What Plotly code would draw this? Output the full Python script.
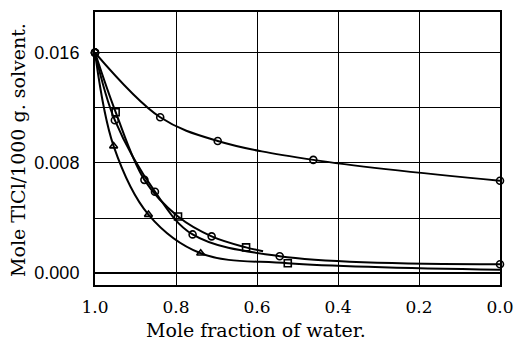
import plotly.graph_objects as go

# Curve A (highest solubility)
xa = [1.0, 0.839, 0.697, 0.461, 0.0]
ya = [0.0160, 0.01131, 0.00959, 0.00822, 0.0067]
sa = ["circle-open"] * 5

# Curve C (upper of lower group, ends near 0.59)
xc = [1.0, 0.949, 0.878, 0.795, 0.712, 0.627, 0.585]
yc = [0.0160, 0.01168, 0.00677, 0.00411, 0.00267, 0.00187, 0.00159]
sc = ["circle-open", "square-open", "circle-open", "square-open", "circle-open", "square-open", None]

# Curve D (middle of lower group)
xd = [1.0, 0.951, 0.852, 0.759, 0.544, 0.0]
yd = [0.0160, 0.0111, 0.00591, 0.00281, 0.00123, 0.00065]
sd = ["circle-open", "circle-open", "circle-open", "circle-open", "circle-open", "circle-open"]

# Curve E (lowest, triangles)
xe = [1.0, 0.954, 0.868, 0.739, 0.524, 0.0]
ye = [0.0160, 0.00922, 0.00425, 0.00144, 0.00072, 0.00025]
se = ["circle-open", "triangle-up-open", "triangle-up-open", "triangle-up-open", "square-open", None]

x_ticks = [1.0, 0.8, 0.6, 0.4, 0.2, 0.0]
x_labels = ["1.0", "0.8", "0.6", "0.4", "0.2", "0.0"]
y_ticks = [0.0, 0.004, 0.008, 0.012, 0.016]
y_labels = ["0.000", "", "0.008", "", "0.016"]

fig = go.Figure()
for xs, ys, ss in [(xa, ya, sa), (xc, yc, sc), (xd, yd, sd), (xe, ye, se)]:
    fig.add_trace(go.Scatter(x=xs, y=ys, mode="lines",
                             line=dict(color="black", width=2, shape="spline", smoothing=1.0),
                             hoverinfo="skip", showlegend=False))
    mx = [x for x, s in zip(xs, ss) if s]
    my = [y for y, s in zip(ys, ss) if s]
    ms = [s for s in ss if s]
    fig.add_trace(go.Scatter(x=mx, y=my, mode="markers",
                             marker=dict(symbol=ms, size=7, color="black",
                                         line=dict(color="black", width=1.6)),
                             cliponaxis=False, showlegend=False))

fig.update_layout(
    width=524, height=343,
    margin=dict(l=95, r=19, t=10, b=58),
    paper_bgcolor="white", plot_bgcolor="white",
    showlegend=False,
    xaxis=dict(range=[1.0, 0.0], tickvals=x_ticks, ticktext=x_labels,
               showgrid=True, gridcolor="black", gridwidth=1.2,
               showline=True, linecolor="black", linewidth=2, mirror=True,
               zeroline=False, ticks="", ticklabelstandoff=6,
               tickfont=dict(family="DejaVu Serif", size=17, color="black")),
    yaxis=dict(range=[-0.00086, 0.01895], tickvals=y_ticks, ticktext=y_labels,
               showgrid=True, gridcolor="black", gridwidth=1.2,
               showline=True, linecolor="black", linewidth=2, mirror=True,
               zeroline=True, zerolinecolor="black", zerolinewidth=2,
               ticks="", ticklabelstandoff=10,
               tickfont=dict(family="Liberation Sans", size=18, color="black")),
    annotations=[
        dict(text="Mole fraction of water.", xref="paper", yref="paper",
             x=0.398, y=-0.165, xanchor="center", yanchor="middle", showarrow=False,
             font=dict(family="DejaVu Serif", size=19, color="black")),
        dict(text="Mole TlCl/1000 g. solvent.", xref="paper", yref="paper",
             x=-0.19, y=0.495, xanchor="center", yanchor="middle", showarrow=False,
             textangle=-90,
             font=dict(family="DejaVu Serif", size=19, color="black")),
    ],
)

fig.write_html("out.html")
